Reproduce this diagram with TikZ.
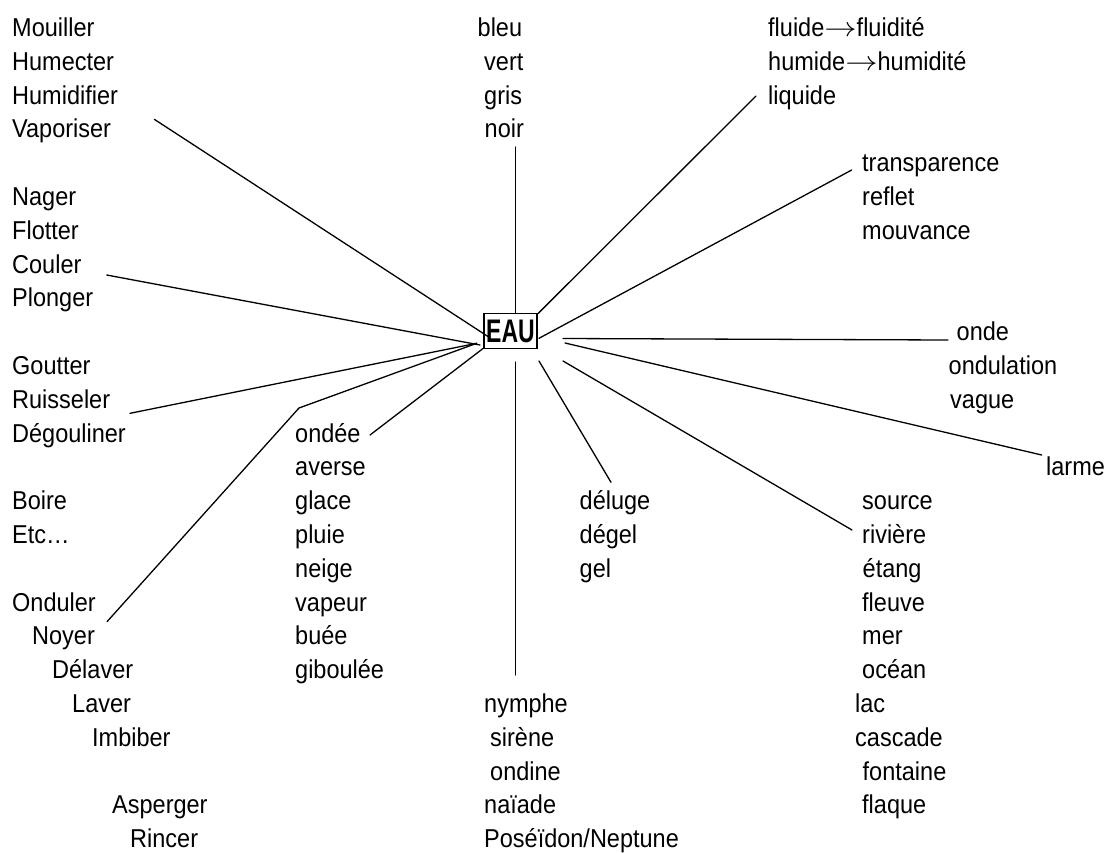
\documentclass[tikz,border=0pt]{standalone}
\usepackage{fontspec}
\setmainfont{Liberation Sans}
\usepackage{graphicx}
\newcommand{\Tx}[1]{\scalebox{1}[1.1]{#1}}
\newcommand{\Arr}{\scalebox{1.3}[1]{$\rightarrow$}}
\tikzset{
  lbl/.style={anchor=base west, inner sep=0pt, font=\fontsize{23.5pt}{28pt}\selectfont},
  conn/.style={line width=1.3pt, line cap=round},
  eaubox/.style={draw, line width=1.8pt, minimum width=53pt, minimum height=35pt, inner sep=0pt,
    font=\fontsize{23pt}{28pt}\selectfont\bfseries}
}
\begin{document}
\begin{tikzpicture}[x=1pt,y=-1pt]
\useasboundingbox (0,0) rectangle (1114,852);
% rows: baseline = 36.5 + 33.8 k
% ---- left column
\node[lbl] (mouiller) at (12,36.5) {\Tx{Mouiller}};
\node[lbl] (humecter) at (12,70.3) {\Tx{Humecter}};
\node[lbl] (humidifier) at (12,104.1) {\Tx{Humidifier}};
\node[lbl] (vaporiser) at (12,137.9) {\Tx{Vaporiser}};
\node[lbl] (nager) at (12,205.5) {\Tx{Nager}};
\node[lbl] (flotter) at (12,239.3) {\Tx{Flotter}};
\node[lbl] (couler) at (12,273.1) {\Tx{Couler}};
\node[lbl] (plonger) at (12,306.9) {\Tx{Plonger}};
\node[lbl] (goutter) at (12,374.5) {\Tx{Goutter}};
\node[lbl] (ruisseler) at (12,408.3) {\Tx{Ruisseler}};
\node[lbl] (degouliner) at (12,442.1) {\Tx{Dégouliner}};
\node[lbl] (boire) at (12,509.7) {\Tx{Boire}};
\node[lbl] (etc) at (12,543.5) {\Tx{Etc…}};
\node[lbl] (onduler) at (12,611.1) {\Tx{Onduler}};
\node[lbl] (noyer) at (32,644.9) {\Tx{Noyer}};
\node[lbl] (delaver) at (52,678.7) {\Tx{Délaver}};
\node[lbl] (laver) at (72,712.5) {\Tx{Laver}};
\node[lbl] (imbiber) at (92,746.3) {\Tx{Imbiber}};
\node[lbl] (asperger) at (112,813.9) {\Tx{Asperger}};
\node[lbl] (rincer) at (130,847.7) {\Tx{Rincer}};
% ---- top middle
\node[lbl] (bleu) at (477.5,36.5) {\Tx{bleu}};
\node[lbl] (vert) at (484,70.3) {\Tx{vert}};
\node[lbl] (gris) at (484,104.1) {\Tx{gris}};
\node[lbl] (noir) at (484.5,137.9) {\Tx{noir}};
% ---- top right
\node[lbl] (fluide) at (768,36.5) {\Tx{fluide\Arr fluidité}};
\node[lbl] (humide) at (768,70.3) {\Tx{humide\Arr humidité}};
\node[lbl] (liquide) at (768,104.1) {\Tx{liquide}};
\node[lbl] (transparence) at (862,171.7) {\Tx{transparence}};
\node[lbl] (reflet) at (862,205.5) {\Tx{reflet}};
\node[lbl] (mouvance) at (862,239.3) {\Tx{mouvance}};
\node[lbl] (onde) at (956.5,340.7) {\Tx{onde}};
\node[lbl] (ondulation) at (948.5,374.5) {\Tx{ondulation}};
\node[lbl] (vague) at (950,408.3) {\Tx{vague}};
\node[lbl] (larme) at (1046,475.9) {\Tx{larme}};
% ---- lower middle-left
\node[lbl] (ondee) at (295,442.1) {\Tx{ondée}};
\node[lbl] (averse) at (295,475.9) {\Tx{averse}};
\node[lbl] (glace) at (295,509.7) {\Tx{glace}};
\node[lbl] (pluie) at (295,543.5) {\Tx{pluie}};
\node[lbl] (neige) at (295,577.3) {\Tx{neige}};
\node[lbl] (vapeur) at (295,611.1) {\Tx{vapeur}};
\node[lbl] (buee) at (295,644.9) {\Tx{buée}};
\node[lbl] (giboulee) at (295,678.7) {\Tx{giboulée}};
% ---- lower middle
\node[lbl] (deluge) at (579.5,509.7) {\Tx{déluge}};
\node[lbl] (degel) at (579.5,543.5) {\Tx{dégel}};
\node[lbl] (gel) at (579.5,577.3) {\Tx{gel}};
\node[lbl] (nymphe) at (484,712.5) {\Tx{nymphe}};
\node[lbl] (sirene) at (490,746.3) {\Tx{sirène}};
\node[lbl] (ondine) at (490,780.1) {\Tx{ondine}};
\node[lbl] (naiade) at (484,813.9) {\Tx{naïade}};
\node[lbl] (poseidon) at (484,847.7) {\Tx{Poséïdon/Neptune}};
% ---- lower right
\node[lbl] (source) at (862,509.7) {\Tx{source}};
\node[lbl] (riviere) at (862,543.5) {\Tx{rivière}};
\node[lbl] (etang) at (862.5,577.3) {\Tx{étang}};
\node[lbl] (fleuve) at (862,611.1) {\Tx{fleuve}};
\node[lbl] (mer) at (862,644.9) {\Tx{mer}};
\node[lbl] (ocean) at (862,678.7) {\Tx{océan}};
\node[lbl] (lac) at (855,712.5) {\Tx{lac}};
\node[lbl] (cascade) at (855,746.3) {\Tx{cascade}};
\node[lbl] (fontaine) at (862.5,780.1) {\Tx{fontaine}};
\node[lbl] (flaque) at (862,813.9) {\Tx{flaque}};
% ---- centre
\node[eaubox] (eau) at (510.5,331) {\scalebox{1}[1.42]{EAU}};
% ---- connector ends
\coordinate (cVap) at (154.3,119.3);
\coordinate (eVap) at (488.3,336.7);
\coordinate (cBleu) at (515.5,147);
\coordinate (eBleu) at (515.5,313);
\coordinate (cLiq) at (756,96);
\coordinate (eLiq) at (538.3,313.3);
\coordinate (cTrans) at (851.7,170);
\coordinate (eTrans) at (539,338.3);
\coordinate (cOnde) at (948,340);
\coordinate (eOnde) at (563,338.5);
\coordinate (cLarme) at (1041.7,455);
\coordinate (eLarme) at (565,343);
\coordinate (cSource) at (852,530);
\coordinate (eSource) at (563,361);
\coordinate (cDeluge) at (611,482.3);
\coordinate (eDeluge) at (539,361);
\coordinate (cNymphe) at (515.5,675);
\coordinate (eNymphe) at (515.5,362);
\coordinate (cOndee) at (370,435);
\coordinate (eOndee) at (483.3,348.3);
\coordinate (cOnduler) at (107,621.7);
\coordinate (kOnduler) at (299,408);
\coordinate (eOnduler) at (476.7,343.3);
\coordinate (cRuis) at (130,413.3);
\coordinate (eRuis) at (476.7,343.3);
\coordinate (cCoul) at (106.7,275);
\coordinate (eCoul) at (480,345);
% ---- connectors
\draw[conn] (cVap) -- (eVap);
\draw[conn] (cBleu) -- (eBleu);
\draw[conn] (cLiq) -- (eLiq);
\draw[conn] (cTrans) -- (eTrans);
\draw[conn] (eOnde) -- (cOnde);
\draw[conn] (eLarme) -- (cLarme);
\draw[conn] (eSource) -- (cSource);
\draw[conn] (eDeluge) -- (cDeluge);
\draw[conn] (eNymphe) -- (cNymphe);
\draw[conn] (cOndee) -- (eOndee);
\draw[conn] (cOnduler) -- (kOnduler) -- (eOnduler);
\draw[conn] (cRuis) -- (eRuis);
\draw[conn] (cCoul) -- (eCoul);
\end{tikzpicture}
\end{document}
